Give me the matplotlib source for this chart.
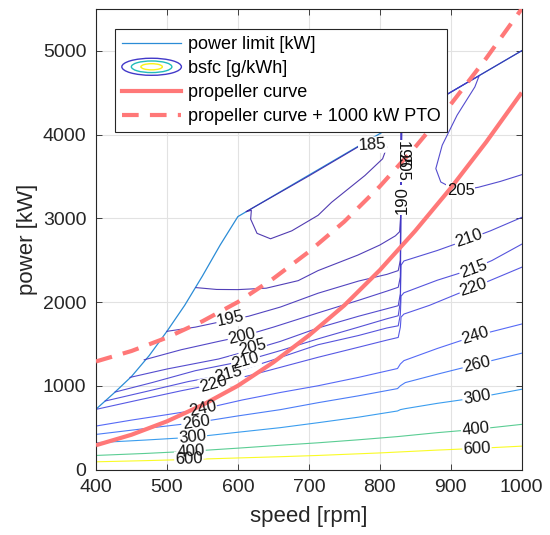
import matplotlib
matplotlib.use("Agg")
import matplotlib.pyplot as plt
from matplotlib.colors import LinearSegmentedColormap, Normalize
from matplotlib.legend_handler import HandlerBase
from matplotlib.lines import Line2D
from matplotlib.patches import Ellipse

plt.rcParams['font.family'] = ['Liberation Sans', 'DejaVu Sans']

# ---- data ----
# power limit of the engine [kW] vs speed [rpm]
pl_speed = [400, 425, 450, 475, 500, 525, 550, 575, 600, 1000]
pl_power = [720, 910, 1110, 1360, 1650, 1960, 2310, 2680, 3020, 5000]

# propeller curve [kW] and the PTO load added on top of it
prop_speed = [400, 450, 500, 550, 600, 650, 700, 750, 800, 850, 900, 950, 1000]
prop_power = [290, 415, 575, 770, 1000, 1280, 1600, 1960, 2380, 2850, 3360, 3910, 4500]
pto_kw = 1000

# bsfc contour lines [g/kWh], as (speed, power) points
c185 = [(612, 3080), (619, 3095), (618, 2990), (627, 2820), (646, 2755), (676, 2850),
        (713, 3035), (732, 3190), (779, 3510), (804, 3710), (810, 3850), (804, 3915),
        (790, 3955), (700, 3505), (612, 3080)]
c190 = [(541, 2172), (570, 2150), (600, 2148), (640, 2165), (685, 2255), (713, 2375),
        (769, 2560), (800, 2680), (822, 2790), (828, 2840), (830, 3100), (831, 4160),
        (900, 4505), (1000, 5000)]
c195 = [(500, 1650), (540, 1700), (590, 1790), (615, 1830), (660, 1940), (713, 2105),
        (770, 2250), (810, 2330), (826, 2375), (829, 2500), (830, 4158)]
c200 = [(468, 1310), (520, 1430), (573, 1530), (606, 1590), (650, 1700), (713, 1870),
        (770, 2020), (810, 2130), (826, 2176), (829, 2300), (830, 4158)]
c205 = [(448, 1100), (500, 1200), (573, 1320), (620, 1430), (660, 1530), (713, 1690),
        (770, 1830), (810, 1920), (826, 1956), (829, 2100), (831, 4160), (880, 4405),
        (923, 4620), (940, 4700), (934, 4568), (909, 4231), (888, 3872), (879, 3593),
        (886, 3433), (895, 3393), (914, 3333), (939, 3370), (970, 3440), (1000, 3520)]
c210 = [(427, 925), (480, 1040), (540, 1180), (611, 1300), (660, 1420), (713, 1560),
        (770, 1700), (810, 1800), (826, 1836), (829, 2000), (830, 2440), (834, 2490),
        (881, 2615), (909, 2700), (956, 2850), (1000, 3010)]
c215 = [(413, 818), (470, 930), (530, 1050), (587, 1140), (650, 1310), (713, 1490),
        (770, 1600), (810, 1690), (826, 1716), (829, 1850), (830, 2070), (834, 2110),
        (881, 2260), (909, 2335), (932, 2400), (958, 2495), (1000, 2690)]
c220 = [(400, 718), (460, 830), (520, 940), (566, 1018), (620, 1130), (713, 1340),
        (770, 1460), (810, 1545), (826, 1577), (829, 1700), (830, 1820), (834, 1856),
        (870, 1960), (909, 2096), (932, 2175), (955, 2255), (1000, 2415)]
c240 = [(400, 519), (450, 590), (500, 655), (550, 722), (606, 830), (660, 920), (713, 1000),
        (770, 1100), (825, 1206), (829, 1260), (834, 1300), (881, 1445), (935, 1597),
        (1000, 1737)]
c260 = [(400, 419), (470, 490), (541, 560), (600, 640), (660, 715), (713, 798), (770, 880),
        (825, 966), (829, 1000), (836, 1038), (881, 1138), (937, 1257), (1000, 1389)]
c300 = [(400, 320), (470, 352), (536, 385), (600, 445), (660, 500), (713, 559), (770, 625),
        (825, 699), (829, 715), (836, 727), (881, 790), (937, 858), (1000, 958)]
c400 = [(400, 168), (470, 192), (534, 219), (600, 255), (660, 290), (713, 319), (770, 355),
        (825, 393), (881, 440), (935, 479), (1000, 539)]
c600 = [(400, 92), (470, 106), (531, 120), (600, 138), (660, 153), (713, 168), (800, 198),
        (881, 232), (937, 252), (1000, 279)]

bsfc_levels = [185, 190, 195, 200, 205, 210, 215, 220, 240, 260, 300, 400, 600]
bsfc_lines = [c185, c190, c195, c200, c205, c210, c215, c220, c240, c260, c300, c400, c600]

# contour labels: text, speed, power, angle
label_spots = [
    ('185', 790, 3875, 3),
    ('195', 590, 1795, 12), ('200', 606, 1590, 13), ('205', 620, 1462, 14),
    ('210', 611, 1300, 16), ('215', 587, 1140, 15), ('220', 566, 1020, 15),
    ('240', 550, 722, 12), ('260', 541, 560, 8), ('300', 536, 385, 6),
    ('400', 534, 220, 4), ('600', 531, 120, 2),
    ('205', 914, 3333, 0), ('210', 925, 2760, 19), ('215', 932, 2400, 20),
    ('220', 932, 2176, 18), ('240', 935, 1597, 17), ('260', 937, 1257, 13),
    ('300', 937, 858, 10), ('400', 935, 479, 6), ('600', 937, 252, 3),
    ('195', 832, 3760, -90), ('205', 832, 3610, -90), ('190', 832, 3220, 90),
]

# parula-like colormap for the bsfc levels
parula = LinearSegmentedColormap.from_list('parula', [
    (0.0, (0.2422, 0.1504, 0.6603)),
    (0.111, (0.2810, 0.3228, 0.9579)),
    (0.238, (0.1786, 0.5289, 0.9682)),
    (0.365, (0.0689, 0.6948, 0.8394)),
    (0.492, (0.2161, 0.7843, 0.5923)),
    (0.619, (0.5709, 0.7865, 0.3001)),
    (0.746, (0.8626, 0.7475, 0.1864)),
    (0.873, (0.9892, 0.8136, 0.1885)),
    (1.0, (0.9763, 0.9831, 0.0538)),
])
norm = Normalize(min(bsfc_levels), max(bsfc_levels))

pl_color = '#2b8cd6'
red = '#ff7878'
ink = '#262626'
dash = (4.0, 2.7)


class EllipseIcon(HandlerBase):
    """Legend icon looking like nested contour rings"""

    def create_artists(self, legend, orig_handle, xdescent, ydescent,
                       width, height, fontsize, trans):
        cx = 0.5 * width - xdescent
        cy = 0.5 * height - ydescent
        rings = []
        for scale, col in zip([1.0, 0.68, 0.36],
                              [parula(0.05), parula(0.42), parula(0.97)]):
            e = Ellipse((cx, cy), width * scale, height * 1.35 * scale,
                        fill=False, edgecolor=col, lw=1.0)
            e.set_transform(trans)
            rings.append(e)
        return rings


fig = plt.figure(figsize=(5.5, 5.35), dpi=100)
ax = fig.add_axes([0.1745, 0.1224, 0.774, 0.861])

# power limit first, contours on top of it
ax.plot(pl_speed, pl_power, color=pl_color, lw=0.9, zorder=2)

for level, pts in zip(bsfc_levels, bsfc_lines):
    xs = [p[0] for p in pts]
    ys = [p[1] for p in pts]
    ax.plot(xs, ys, color=parula(norm(level)), lw=0.8, alpha=0.9, zorder=2.1)

# label gaps (white) under the propeller curves, text above them
for txt, x, y, ang in label_spots:
    ax.text(x, y, txt, rotation=ang, ha='center', va='center', fontsize=12,
            color='none', rotation_mode='anchor', zorder=3,
            bbox=dict(boxstyle='square,pad=0.05', fc='white', ec='none'))
    ax.text(x, y, txt, rotation=ang, ha='center', va='center', fontsize=12,
            color='#111111', rotation_mode='anchor', zorder=5)

pto_power = [p + pto_kw for p in prop_power]
ax.plot(prop_speed, prop_power, color=red, lw=3.0, zorder=4, solid_capstyle='butt')
ax.plot(prop_speed, pto_power, color=red, lw=3.0, zorder=4,
        dashes=dash, dash_capstyle='butt')

ax.set_xlim(400, 1000)
ax.set_ylim(0, 5500)
ax.set_xticks(range(400, 1001, 100))
ax.set_yticks(range(0, 5001, 1000))
ax.grid(True, color='#e2e2e2', lw=0.8)
ax.set_axisbelow(True)
ax.tick_params(direction='in', top=True, right=True, length=4, width=0.6,
               labelsize=14, colors=ink, pad=7)
for sp in ax.spines.values():
    sp.set_color(ink)
    sp.set_linewidth(0.8)
ax.set_xlabel('speed [rpm]', fontsize=16, color=ink, labelpad=7)
ax.set_ylabel('power [kW]', fontsize=16, color=ink, labelpad=3)

handles = [
    Line2D([], [], color=pl_color, lw=0.9),
    Ellipse((0, 0), 1, 1),
    Line2D([], [], color=red, lw=3.0),
    Line2D([], [], color=red, lw=3.0, dashes=dash),
]
names = ['power limit [kW]', 'bsfc [g/kWh]', 'propeller curve',
         'propeller curve + 1000 kW PTO']
leg = ax.legend(handles, names, loc='upper left', bbox_to_anchor=(0.0446, 0.9555),
                borderaxespad=0, fontsize=13, handlelength=3.3, handletextpad=0.35,
                labelspacing=0.38, borderpad=0.38, fancybox=False, framealpha=1,
                edgecolor=ink, handler_map={Ellipse: EllipseIcon()})
leg.get_frame().set_linewidth(0.8)
leg.set_zorder(10)

fig.savefig('out.png', dpi=100)
